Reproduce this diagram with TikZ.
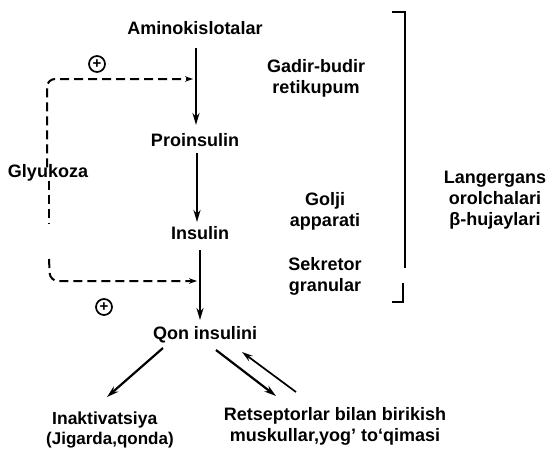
\documentclass[tikz,border=0pt]{standalone}
\usepackage{fontspec}
\setmainfont{Liberation Sans}
\usetikzlibrary{arrows.meta}
\begin{document}
\begin{tikzpicture}[x=1pt,y=-1pt,
  lbl/.style={font=\bfseries\fontsize{18}{21}\selectfont, inner sep=1pt, align=center},
  main/.style={line width=2.2pt, -{Stealth[length=12pt,width=7pt]}},
  back/.style={line width=1.7pt, -{Stealth[length=11pt,width=6.5pt]}},
  fb/.style={line width=2pt, dash pattern=on 9pt off 5pt, rounded corners=8pt},
  fbarrow/.style={fb, -{Stealth[length=8pt,width=5.5pt]}},
  plus/.style={circle, draw, line width=1.7pt, minimum size=16pt, inner sep=0pt, font=\bfseries\fontsize{15}{15}\selectfont},
  brk/.style={line width=1.6pt}]
\useasboundingbox (0,0) rectangle (549,450);
% main chain
\node[lbl] (amino) at (195,28) {Aminokislotalar};
\node[lbl] (pro) at (195,140) {Proinsulin};
\node[lbl] (ins) at (200,233) {Insulin};
\node[lbl] (qon) at (205,335) {Qon insulini};
\node[lbl, font=\bfseries\fontsize{17}{20}\selectfont, align=left, anchor=west] (inak) at (45,430) {\hspace*{6pt}{\fontsize{17.5}{20}\selectfont Inaktivatsiya}\\(Jigarda,qonda)};
\node[lbl] (rets) at (335,426) {Retseptorlar bilan birikish\\muskullar,yog' to‘qimasi};
\node[lbl] (glu) at (48,173) {Glyukoza};
% right side labels
\node[lbl] (gadir) at (316,78) {Gadir-budir\\retikupum};
\node[lbl] (golji) at (325,211) {Golji\\apparati};
\node[lbl] (sekr) at (325,276) {Sekretor\\granular};
\node[lbl] (lang) at (495,200) {Langergans\\orolchalari\\β-hujaylari};
% plus signs
\node[plus] (p1) at (97,64) {+};
\node[plus] (p2) at (104,307) {+};
% connector end points
\coordinate (a1) at (196,48);  \coordinate (a2) at (196,125);
\coordinate (b1) at (197,153); \coordinate (b2) at (197,222);
\coordinate (c1) at (200,250); \coordinate (c2) at (200,320);
\coordinate (d1) at (163,348); \coordinate (d2) at (107,397);
\coordinate (e1) at (216,350); \coordinate (e2) at (276,396);
\coordinate (g1) at (296,392); \coordinate (g2) at (242,352);
\coordinate (f1) at (193,79);
\coordinate (f2) at (197,281);
% main arrows
\draw[main] (a1) -- (a2);
\draw[main] (b1) -- (b2);
\draw[main] (c1) -- (c2);
\draw[main] (d1) -- (d2);
\draw[main] (e1) -- (e2);
\draw[back] (g1) -- (g2);
% feedback dashed
\draw[fbarrow] ([yshift=-4pt]glu.north -| 47,0) -- (47,79) -- (f1);
\draw[fb] ([yshift=2pt]glu.south -| 49,0) -- (49,223);
\draw[fbarrow] (49,259) -- (50,281) -- (f2);
% bracket
\draw[brk] (392,12) -- (405,12) -- (405,268);
\draw[brk] (403,283) -- (403,302) -- (392,302);
\end{tikzpicture}
\end{document}
